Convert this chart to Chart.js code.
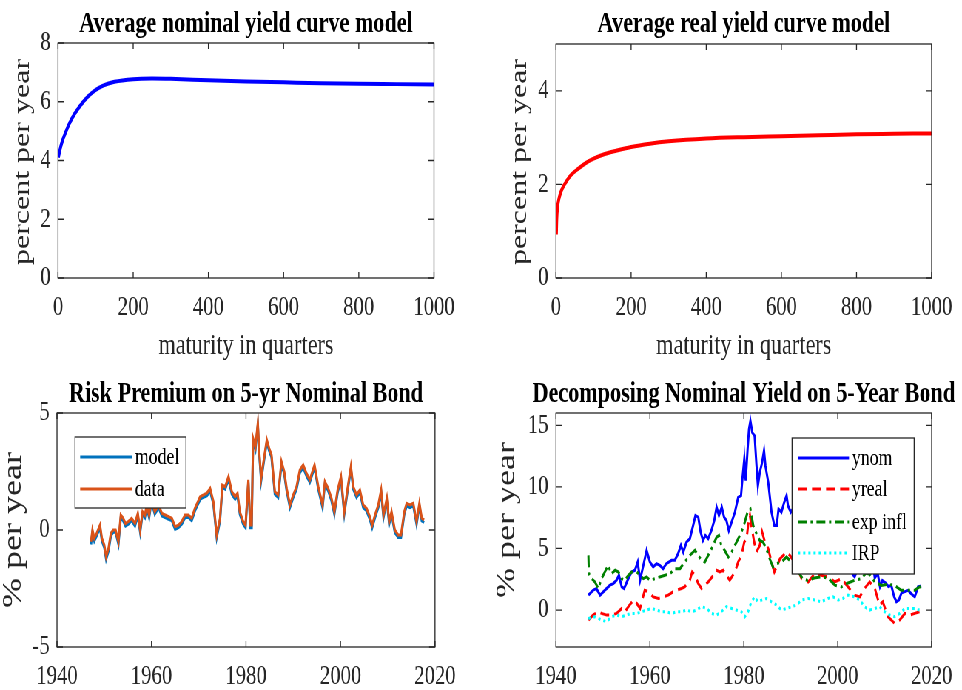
<!DOCTYPE html>
<html>
<head>
<meta charset="utf-8">
<script src="https://cdn.jsdelivr.net/npm/chart.js@4.4.1/dist/chart.umd.min.js"></script>
<style>
html,body{margin:0;padding:0;background:#fff;width:962px;height:690px;overflow:hidden;}
#wrap{position:absolute;left:0;top:0;width:1300px;height:690px;transform:scaleX(0.74);transform-origin:0 0;}
#wrap canvas{position:absolute;}
</style>
</head>
<body>
<div id="wrap">
  <canvas id="c1" width="650" height="370" style="left:0;top:0"></canvas>
  <canvas id="c2" width="650" height="370" style="left:650px;top:0"></canvas>
  <canvas id="c3" width="650" height="320" style="left:0;top:370px"></canvas>
  <canvas id="c4" width="650" height="320" style="left:650px;top:370px"></canvas>
</div>
<script>
// ---------------- DATA ----------------
// Panel 1: average nominal yield curve
const maturityNom = [1,5,10,20,30,40,50,60,80,100,120,150,200,250,300,400,500,600,700,800,900,1000];
const nominalYield = [4.1,4.35,4.6,4.95,5.25,5.5,5.7,5.88,6.18,6.4,6.55,6.68,6.77,6.79,6.78,6.73,6.69,6.66,6.63,6.61,6.6,6.59];
// Panel 2: average real yield curve
const maturityReal = [1,2,4,8,15,25,40,60,80,100,130,160,200,250,300,400,500,600,700,800,900,1000];
const realYield = [0.93,1.25,1.5,1.7,1.88,2.03,2.2,2.34,2.46,2.55,2.65,2.72,2.8,2.87,2.92,2.98,3.01,3.03,3.05,3.07,3.08,3.09];
const maturityTicks = [0,200,400,600,800,1000];
const nomYTicks = [0,2,4,6,8];
const realYTicks = [0,2,4];

// Panel 3: risk premium on 5-yr nominal bond
const rpYears = [1947.2,1947.5,1947.9,1948.4,1949.1,1949.5,1950.0,1950.4,1950.9,1951.4,
1951.9,1952.4,1953.0,1953.5,1954.0,1954.5,1955.1,1955.8,1956.5,1957.1,
1957.6,1958.1,1958.6,1959.0,1959.5,1960.0,1960.7,1961.5,1962.2,1962.9,
1963.6,1964.3,1965.0,1965.7,1966.4,1967.1,1967.8,1968.5,1969.2,1970.3,
1971.0,1971.7,1972.4,1973.1,1973.8,1974.5,1975.0,1975.6,1976.3,1977.0,
1977.7,1978.2,1978.7,1979.4,1979.9,1980.5,1980.9,1981.2,1981.5,1982.0,
1982.5,1982.8,1983.2,1983.7,1984.4,1984.9,1985.4,1986.1,1986.8,1987.5,
1988.1,1988.6,1989.3,1990.0,1990.7,1991.4,1992.1,1992.8,1993.5,1994.5,
1995.3,1996.2,1996.7,1997.4,1998.1,1998.7,1999.4,2000.1,2000.8,2001.5,
2002.2,2002.7,2003.4,2004.1,2004.8,2005.5,2006.2,2006.7,2007.3,2008.0,
2008.6,2009.1,2009.8,2010.3,2010.8,2011.5,2012.2,2012.8,2013.5,2014.0,
2014.7,2015.4,2016.1,2016.7,2017.2,2017.7];
const rpData = [-0.5,0,-0.35,-0.14,0.21,-0.35,-0.64,-1.14,-0.78,-0.14,
0,0,-0.5,0.64,0.5,0.28,0.36,0.5,0.28,0.71,
0,0.78,0.64,1.07,0.64,1.3,0.78,1.07,0.71,0.64,
0.57,0.5,0.14,0.21,0.36,0.64,0.64,0.5,0.93,1.42,
1.5,1.57,1.78,1.21,-0.21,0.5,1.92,1.85,2.28,1.64,
1.42,1.57,0.78,0.36,0.21,2.14,0.21,0.21,3.92,3.56,
4.56,3.35,2.21,2.92,3.85,3.49,3.21,1.64,1.5,2.92,
2.49,1.78,1.07,1.5,1.85,2.56,2.78,2.42,2.14,2.78,
1.85,1.07,2.07,1.78,1.35,0.78,1.71,2.28,0.78,1.78,
2.71,1.85,1.5,1.71,1.07,0.93,0.57,0.21,0.64,1.07,
1.71,0.64,1.35,0.36,0.78,0,-0.21,-0.21,0.78,1.14,
1.07,1.14,0.36,1.14,0.5,0.43];
const rpModel = [-0.62,-0.1,-0.47,-0.25,0.1,-0.46,-0.75,-1.25,-0.9,-0.25,
-0.1,-0.1,-0.6,0.52,0.4,0.17,0.25,0.4,0.17,0.6,
-0.1,0.68,0.53,0.96,0.53,1.2,0.68,0.96,0.6,0.53,
0.46,0.4,0.03,0.1,0.25,0.53,0.54,0.4,0.82,1.31,
1.4,1.46,1.67,1.1,-0.32,0.4,1.82,1.74,2.17,1.53,
1.31,1.46,0.67,0.25,0.1,2.03,0.1,0.1,3.82,3.45,
4.46,3.24,2.1,2.81,3.75,3.38,3.1,1.53,1.39,2.81,
2.38,1.67,0.96,1.39,1.74,2.45,2.67,2.31,2.03,2.67,
1.74,0.96,1.96,1.67,1.24,0.67,1.6,2.17,0.67,1.67,
2.6,1.74,1.39,1.6,0.96,0.82,0.46,0.1,0.53,0.96,
1.6,0.53,1.24,0.25,0.67,-0.11,-0.32,-0.32,0.67,1.03,
0.96,1.03,0.25,1.03,0.39,0.32];
const yearTicks = [1940,1960,1980,2000,2020];
const rpYTicks = [-5,0,5];

// Panel 4: decomposition of the nominal 5-year yield
const ynomYears = [1946.9,1947.9,1948.6,1949.4,1950.4,1951.5,1952.2,1952.9,1953.4,1954.0,
1954.5,1955.4,1956.1,1956.8,1957.4,1957.9,1958.6,1959.3,1960.0,1960.7,
1961.4,1962.1,1962.8,1963.5,1964.6,1965.3,1966.0,1966.6,1967.1,1967.8,
1968.5,1969.2,1969.7,1970.3,1970.8,1971.3,1971.8,1972.4,1973.1,1973.7,
1974.2,1974.7,1975.3,1975.8,1976.3,1976.8,1977.4,1978.1,1978.8,1979.4,
1979.7,1980.1,1980.4,1980.8,1981.1,1981.4,1981.8,1982.3,1982.7,1983.0,
1983.4,1983.9,1984.3,1984.6,1985.2,1985.9,1986.5,1987.0,1987.4,1988.0,
1988.6,1989.1,1989.4,1990.0,1990.6,1991.2,1991.8,1992.4,1993.0,1993.6,
1994.2,1994.8,1995.4,1996.0,1996.6,1997.2,1997.8,1998.4,1999.0,1999.6,
2000.2,2000.8,2001.4,2002.0,2002.6,2003.2,2003.6,2004.2,2004.8,2005.4,
2006.0,2006.6,2007.2,2007.9,2008.5,2009.0,2009.5,2010.2,2010.8,2011.4,
2012.0,2012.5,2013.0,2013.6,2014.3,2015.0,2015.6,2016.4,2017.1,2017.8];
const ynom = [1.21,1.61,1.75,1.21,1.61,2.02,2.15,2.42,2.82,1.88,
1.75,2.55,3.09,3.23,3.9,2.42,3.63,4.85,3.9,3.5,
3.77,3.63,3.36,3.77,4.04,4.04,4.58,5.25,4.71,5.52,
5.79,6.87,7.68,7.54,6.33,5.65,6.06,5.79,6.46,7.27,
8.35,7.68,8.35,7.54,7.27,6.46,7.14,7.94,9.16,9.29,
10.64,12.26,10.5,13.07,14.68,15.36,14.41,14.14,11.72,10.1,
11.18,11.99,12.93,11.72,10.37,7.94,6.87,6.87,8.21,7.94,
8.75,9.29,8.48,7.94,8.3,7.7,7.2,6.0,5.6,5.0,
5.8,7.2,6.4,5.5,6.4,6.3,5.9,5.3,4.7,5.6,
6.6,5.8,4.6,4.3,3.6,2.9,2.7,3.3,3.8,4.0,
4.6,5.0,4.6,2.6,3.0,1.9,2.4,2.2,1.9,2.0,
1.1,0.67,0.8,1.4,1.5,1.6,1.35,1.07,1.88,1.96];
const yrealYears = [1946.9,1947.9,1949.0,1949.7,1950.8,1951.8,1952.9,1954.0,1954.7,1955.4,
1956.5,1957.2,1957.9,1958.9,1959.8,1960.7,1961.8,1962.8,1963.9,1964.9,
1965.7,1966.7,1967.4,1968.5,1969.0,1969.6,1970.3,1971.0,1971.7,1972.4,
1973.5,1974.2,1974.9,1975.6,1976.3,1977.0,1978.1,1978.8,1979.5,1980.1,
1980.6,1980.9,1981.3,1981.6,1982.2,1982.7,1983.4,1983.9,1984.5,1985.2,
1985.9,1986.5,1987.0,1987.7,1988.4,1989.1,1989.8,1991.0,1992.3,1993.7,
1995.1,1996.5,1997.9,1999.4,2000.8,2002.2,2003.6,2004.7,2005.7,2006.8,
2007.9,2008.9,2009.6,2010.7,2012.1,2013.2,2014.3,2015.3,2016.4,2017.4,
2017.8];
const yreal = [-0.81,-0.41,-0.14,-0.27,-0.41,-0.41,-0.27,0.13,-0.14,0.27,
0.81,0.54,0.13,1.61,1.48,1.07,0.94,1.07,1.21,1.48,
1.61,1.75,1.88,2.42,3.09,2.82,2.15,1.75,2.02,2.28,
2.82,3.23,3.09,3.23,2.82,2.42,3.09,3.9,4.44,5.52,
5.79,6.87,7.68,6.87,5.52,4.71,5.25,6.33,5.52,4.98,
3.9,3.09,3.5,4.17,4.44,4.71,4.44,3.8,2.55,2.28,
2.96,2.82,2.69,2.28,2.55,1.88,1.21,1.07,1.75,2.28,
1.75,0.4,0.67,-0.54,-1.08,-0.81,-0.27,-0.41,-0.27,-0.14,
-0.1];
const expInflYears = [1946.9,1947.0,1947.6,1948.3,1949.0,1949.7,1950.4,1951.1,1951.8,1952.6,
1953.3,1954.0,1954.7,1955.4,1956.1,1957.2,1957.9,1958.6,1959.3,1960.0,
1961.1,1962.1,1963.2,1964.3,1965.3,1966.4,1967.4,1968.5,1969.6,1970.3,
1971.0,1971.7,1972.4,1973.3,1974.2,1974.7,1975.2,1975.9,1976.7,1977.4,
1978.1,1978.8,1979.5,1980.2,1980.9,1981.4,1982.0,1982.7,1983.4,1984.1,
1984.8,1985.5,1986.2,1987.0,1988.0,1989.1,1990.1,1991.5,1992.5,1993.6,
1995.0,1996.5,1997.9,1999.4,2000.8,2002.2,2003.6,2005.0,2006.0,2006.8,
2007.9,2009.3,2010.7,2012.1,2013.5,2015.0,2016.4,2017.4,2017.8];
const expInfl = [4.44,2.96,2.55,2.28,1.75,2.55,3.09,3.63,2.96,3.23,
3.09,2.55,2.42,2.82,3.09,3.09,2.82,2.55,2.69,2.42,
2.55,2.69,2.82,2.96,3.36,3.36,3.9,4.44,4.85,4.44,
4.04,3.9,4.44,5.12,5.92,6.06,5.25,4.85,4.31,4.71,
5.25,5.79,6.33,7.14,8.08,8.21,6.87,6.19,5.65,5.52,
4.98,4.17,3.5,3.77,3.9,4.31,3.9,3.2,2.55,2.4,
2.6,2.7,2.6,2.02,1.88,2.2,2.42,2.55,3.0,2.9,
2.28,2.0,2.1,2.0,1.61,1.61,1.6,1.88,1.9];
const irpYears = [1946.9,1948.3,1949.7,1950.8,1951.8,1952.9,1954.0,1955.0,1956.1,1957.2,
1958.2,1959.3,1960.4,1961.4,1962.5,1963.5,1964.6,1965.7,1966.7,1967.8,
1968.9,1969.9,1971.0,1972.1,1973.1,1974.2,1975.2,1976.3,1977.4,1978.4,
1979.5,1980.2,1980.9,1981.6,1982.3,1983.0,1983.8,1984.8,1985.9,1987.0,
1988.0,1989.1,1990.1,1991.2,1992.3,1993.7,1995.1,1996.5,1997.9,1999.0,
2000.1,2001.1,2002.2,2003.6,2004.7,2005.7,2006.8,2007.9,2008.9,2010.0,
2011.1,2012.1,2013.2,2014.3,2015.3,2016.4,2017.4];
const irp = [-0.68,-0.54,-0.81,-0.95,-0.54,-0.41,-0.54,-0.41,-0.27,-0.27,
-0.14,0,0.13,0,-0.14,-0.14,-0.27,-0.14,-0.14,0,
-0.14,0,0.27,0.13,-0.27,-0.41,-0.14,0.27,0.13,0,
-0.14,-0.54,-0.14,0.67,1.07,0.67,0.81,0.94,0.67,0.4,
0,0.13,0.27,0.4,0.81,0.94,0.81,0.67,0.94,1.07,
0.81,0.94,1.21,1.07,0.81,0.27,0,0.13,0.27,-0.14,
-0.41,-0.54,-0.27,0.13,0.13,0.13,0];
const decompYTicks = [0,5,10,15];

// ---------------- RENDERING ----------------
const S = 0.74; // horizontal compression of the whole figure
const SERIF = "'Liberation Serif', 'Times New Roman', serif";
const AX = '#262626';

function pts(xs, ys){ return xs.map((x,i)=>({x:x, y:ys[i]})); }

// convert page-space plot rectangle into canvas-space geometry
function geom(canvasPageLeft, canvasPageTop, W, H, pl, pr, pt, pb){
  return {W:W, H:H, L:(pl-canvasPageLeft)/S, R:(pr-canvasPageLeft)/S, T:pt-canvasPageTop, B:pb-canvasPageTop};
}

const decoPlugin = {
  id:'deco',
  afterDatasetsDraw(chart){
    const c = chart.options.plugins.deco;
    const ctx = chart.ctx, a = chart.chartArea, sx = chart.scales.x, sy = chart.scales.y;
    ctx.save();
    ctx.strokeStyle = AX; ctx.lineWidth = 1.3; ctx.setLineDash([]);
    ctx.strokeRect(a.left, a.top, a.right-a.left, a.bottom-a.top);
    ctx.beginPath();
    sx.ticks.forEach(t=>{ const x = sx.getPixelForValue(t.value);
      ctx.moveTo(x,a.bottom); ctx.lineTo(x,a.bottom-6); ctx.moveTo(x,a.top); ctx.lineTo(x,a.top+6); });
    sy.ticks.forEach(t=>{ const y = sy.getPixelForValue(t.value);
      ctx.moveTo(a.left,y); ctx.lineTo(a.left+8,y); ctx.moveTo(a.right,y); ctx.lineTo(a.right-8,y); });
    ctx.stroke();
    if (c.legend){
      const L = c.legend, x0 = a.left + L.dx, y0 = a.top + L.dy;
      ctx.fillStyle = '#fff'; ctx.fillRect(x0,y0,L.w,L.h);
      ctx.strokeStyle = AX; ctx.lineWidth = 1.3; ctx.strokeRect(x0,y0,L.w,L.h);
      ctx.font = '24px ' + SERIF; ctx.textBaseline = 'middle'; ctx.textAlign = 'left';
      chart.data.datasets.forEach((ds,i)=>{
        const y = y0 + L.rows[i];
        ctx.strokeStyle = ds.borderColor; ctx.lineWidth = ds.borderWidth;
        ctx.setLineDash(ds.borderDash || []);
        ctx.beginPath(); ctx.moveTo(x0+L.s0,y); ctx.lineTo(x0+L.s1,y); ctx.stroke();
        ctx.setLineDash([]);
        ctx.fillStyle = '#000'; ctx.fillText(ds.label, x0+L.tx, y+1);
      });
    }
    ctx.restore();
  },
  afterDraw(chart){
    const c = chart.options.plugins.deco;
    const ctx = chart.ctx, a = chart.chartArea;
    ctx.save();
    ctx.fillStyle = '#000'; ctx.textAlign = 'center'; ctx.textBaseline = 'alphabetic';
    ctx.font = 'bold 30px ' + SERIF;
    ctx.fillText(c.title, (a.left+a.right)/2, 32);
    ctx.fillStyle = AX;
    if (c.xlabel){ ctx.font = '30px ' + SERIF; ctx.fillText(c.xlabel, (a.left+a.right)/2, 354); }
    ctx.translate(c.ylabelX, c.ylabelY); ctx.rotate(-Math.PI/2);
    ctx.font = c.ylabelSize + 'px ' + SERIF;
    ctx.fillText(c.ylabel, 0, 0);
    ctx.restore();
  }
};

function makeChart(id, g, datasets, xr, xt, yr, yt, deco, tickSize){
  const tickFont = {family:SERIF, size:tickSize};
  return new Chart(document.getElementById(id), {
    type:'line',
    data:{datasets:datasets},
    plugins:[decoPlugin],
    options:{
      responsive:false, animation:false, events:[],
      layout:{padding:{left:0, top:g.T, right:g.W-g.R, bottom:0}},
      elements:{point:{radius:0}, line:{tension:0}},
      plugins:{legend:{display:false}, tooltip:{enabled:false}, title:{display:false}, deco:deco},
      scales:{
        x:{type:'linear', min:xr[0], max:xr[1],
           afterBuildTicks:s=>{ s.ticks = xt.map(v=>({value:v})); },
           afterFit:s=>{ s.height = g.H - g.B; },
           grid:{display:false, drawTicks:false}, border:{display:false},
           ticks:{font:tickFont, color:AX, padding:13, maxRotation:0, autoSkip:false, callback:v=>String(v)}},
        y:{type:'linear', min:yr[0], max:yr[1],
           afterBuildTicks:s=>{ s.ticks = yt.map(v=>({value:v})); },
           afterFit:s=>{ s.width = g.L; },
           grid:{display:false, drawTicks:false}, border:{display:false},
           ticks:{font:tickFont, color:AX, padding:10, autoSkip:false, callback:v=>String(v)}}
      }
    }
  });
}

// Panel 1
makeChart('c1', geom(0,0,650,370, 58,434,43,278),
  [{label:'nominal', data:pts(maturityNom,nominalYield), borderColor:'#0000ff', borderWidth:4, cubicInterpolationMode:'monotone', fill:false}],
  [0,1000], maturityTicks, [0,8], nomYTicks,
  {title:'Average nominal yield curve model', xlabel:'maturity in quarters', ylabel:'percent per year', ylabelX:39, ylabelY:162, ylabelSize:32}, 28);

// Panel 2
makeChart('c2', geom(481,0,650,370, 556,932,44,278),
  [{label:'real', data:pts(maturityReal,realYield), borderColor:'#ff0000', borderWidth:4, cubicInterpolationMode:'monotone', fill:false}],
  [0,1000], maturityTicks, [0,5], realYTicks,
  {title:'Average real yield curve model', xlabel:'maturity in quarters', ylabel:'percent per year', ylabelX:61, ylabelY:162, ylabelSize:32}, 28);

// Panel 3
makeChart('c3', geom(0,370,650,320, 57,435,413,647),
  [{label:'model', data:pts(rpYears,rpModel), borderColor:'#0072bd', borderWidth:3, order:1, fill:false},
   {label:'data', data:pts(rpYears,rpData), borderColor:'#d95319', borderWidth:3, order:0, fill:false}],
  [1940,2020], yearTicks, [-5,5], rpYTicks,
  {title:'Risk Premium on 5-yr Nominal Bond', ylabel:'% per year', ylabelX:28, ylabelY:160, ylabelSize:36,
   legend:{dx:24.3, dy:24, w:150, h:71, rows:[20,52], s0:7, s1:77, tx:81}}, 28);

// Panel 4
makeChart('c4', geom(481,370,650,320, 556,932,413,647),
  [{label:'ynom', data:pts(ynomYears,ynom), borderColor:'#0000ff', borderWidth:3, order:3, fill:false},
   {label:'yreal', data:pts(yrealYears,yreal), borderColor:'#ff0000', borderWidth:3, borderDash:[12,7], order:2, fill:false},
   {label:'exp infl', data:pts(expInflYears,expInfl), borderColor:'#008000', borderWidth:3, borderDash:[12,5,3,5], order:1, fill:false},
   {label:'IRP', data:pts(irpYears,irp), borderColor:'#00ffff', borderWidth:3, borderDash:[3,4], order:0, fill:false}],
  [1940,2020], yearTicks, [-3,16], decompYTicks,
  {title:'Decomposing Nominal Yield on 5-Year Bond', ylabel:'% per year', ylabelX:45, ylabelY:150, ylabelSize:36,
   legend:{dx:319, dy:25, w:165, h:136, rows:[20,51,84,115], s0:8, s1:77, tx:81}}, 28);
</script>
</body>
</html>
